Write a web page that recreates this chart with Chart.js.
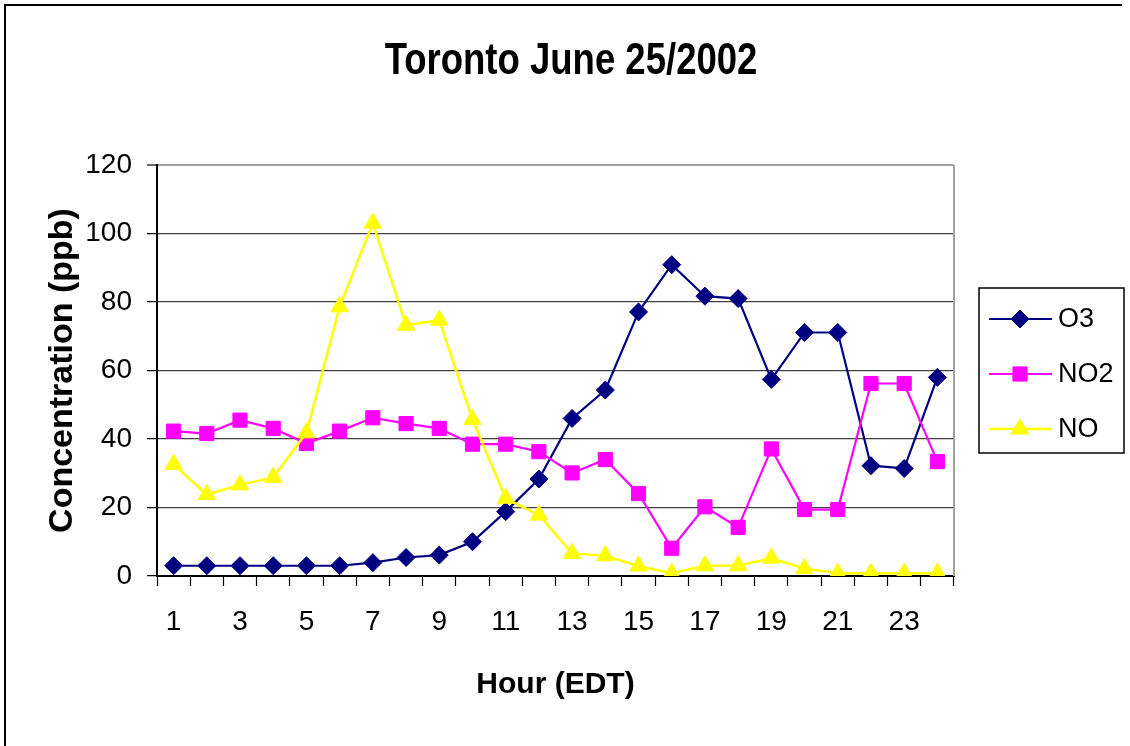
<!DOCTYPE html>
<html>
<head>
<meta charset="utf-8">
<title>Toronto June 25/2002</title>
<script src="https://cdn.jsdelivr.net/npm/chart.js@4.4.1/dist/chart.umd.min.js"></script>
<style>
  html, body { margin: 0; padding: 0; background: #ffffff; }
  #wrap { width: 1130px; height: 746px; }
</style>
</head>
<body>
<div id="wrap"><canvas id="chart" width="1130" height="746"></canvas></div>
<script>
// Hourly concentrations (ppb), hours 1..24 EDT
const hours = ['1','2','3','4','5','6','7','8','9','10','11','12',
               '13','14','15','16','17','18','19','20','21','22','23','24'];
const o3  = [3.0, 3.0, 3.0, 3.0, 3.0, 3.0, 3.9, 5.4, 6.1, 10.0, 18.8, 28.3,
             46.0, 54.3, 77.1, 90.9, 81.7, 81.0, 57.4, 71.1, 71.1, 32.2, 31.4, 58.0];
const no2 = [42.3, 41.6, 45.5, 43.1, 38.7, 42.3, 46.2, 44.5, 43.1, 38.5, 38.5, 36.3,
             30.1, 34.0, 24.1, 8.1, 20.2, 14.2, 37.1, 19.4, 19.4, 56.2, 56.2, 33.4];
const no  = [32.6, 23.8, 26.6, 28.8, 41.8, 78.6, 103.0, 73.2, 74.7, 45.7, 22.7, 17.8,
             6.6, 5.9, 2.9, 0.8, 3.0, 3.0, 5.2, 2.2, 0.8, 0.8, 0.8, 0.8];
const yTicks = [0, 20, 40, 60, 80, 100, 120];
const chartTitle = 'Toronto June 25/2002';

const FONT = '"Liberation Sans", Arial, sans-serif';

// White page with the frame lines on the top and left edges
const framePlugin = {
  id: 'frame',
  beforeDraw(chart) {
    const ctx = chart.ctx;
    ctx.save();
    ctx.fillStyle = '#ffffff';
    ctx.fillRect(0, 0, chart.width, chart.height);
    ctx.strokeStyle = '#000000';
    ctx.lineWidth = 2;
    ctx.beginPath();
    ctx.moveTo(5, chart.height);
    ctx.lineTo(5, 5);
    ctx.lineTo(1122, 5);
    ctx.stroke();
    ctx.restore();
  },
  beforeDatasetsDraw(chart) {
    // grey plot-area edge on the right side
    const a = chart.chartArea;
    const ctx = chart.ctx;
    ctx.save();
    ctx.strokeStyle = '#a0a0a0';
    ctx.lineWidth = 2;
    ctx.beginPath();
    ctx.moveTo(a.right, a.top);
    ctx.lineTo(a.right, a.bottom);
    ctx.stroke();
    ctx.restore();
  }
};

// Condensed bold title centred across the whole page
const titlePlugin = {
  id: 'pageTitle',
  afterDraw(chart) {
    const ctx = chart.ctx;
    ctx.save();
    ctx.translate(571, 62);
    ctx.scale(0.83, 1);
    ctx.fillStyle = '#000000';
    ctx.font = 'bold 44px ' + FONT;
    ctx.textAlign = 'center';
    ctx.textBaseline = 'middle';
    ctx.fillText(chartTitle, 0, 0);
    ctx.restore();
  }
};

// Boxed legend with a line-and-marker sample for each series
const seriesLegend = {
  id: 'seriesLegend',
  afterDraw(chart) {
    const ctx = chart.ctx;
    const box = { x: 979, y: 288, w: 145, h: 165 };
    ctx.save();
    ctx.strokeStyle = '#000000';
    ctx.lineWidth = 1.5;
    ctx.strokeRect(box.x, box.y, box.w, box.h);
    const rowY = [319, 374, 429];
    chart.data.datasets.forEach((ds, i) => {
      const y = rowY[i];
      ctx.strokeStyle = ds.borderColor;
      ctx.lineWidth = ds.borderWidth;
      ctx.beginPath();
      ctx.moveTo(989, y);
      ctx.lineTo(1052, y);
      ctx.stroke();
      ctx.fillStyle = ds.pointBackgroundColor;
      ctx.strokeStyle = ds.pointBorderColor;
      ctx.lineWidth = 1;
      Chart.helpers.drawPoint(ctx, {
        pointStyle: ds.pointStyle,
        radius: ds.pointRadius,
        borderWidth: 1
      }, 1020, y);
      ctx.fillStyle = '#000000';
      ctx.font = '27px ' + FONT;
      ctx.textBaseline = 'middle';
      ctx.textAlign = 'left';
      ctx.fillText(ds.label, 1058, y + 1);
    });
    ctx.restore();
  }
};

const series = (label, data, color, style, radius, width, order) => ({
  label, data, order,
  borderColor: color,
  backgroundColor: color,
  borderWidth: width,
  pointStyle: style,
  pointRadius: radius,
  pointHoverRadius: radius,
  pointBackgroundColor: color,
  pointBorderColor: color,
  pointBorderWidth: 1,
  tension: 0,
  fill: false
});

const datasets = [
  series('O3', o3, '#000080', 'rectRot', 9, 2.2, 3),
  series('NO2', no2, '#ff00ff', 'rect', 10, 2.2, 2),
  series('NO', no, '#ffff00', 'triangle', 10, 2.5, 1)
];

new Chart(document.getElementById('chart'), {
  type: 'line',
  data: { labels: hours, datasets },
  plugins: [framePlugin, titlePlugin, seriesLegend],
  options: {
    responsive: false,
    animation: false,
    layout: { padding: { left: 0, top: 165, right: 176, bottom: 0 } },
    plugins: {
      legend: { display: false },
      tooltip: { enabled: false },
      title: { display: false }
    },
    scales: {
      x: {
        type: 'category',
        offset: true,
        grid: {
          offset: true,
          drawOnChartArea: false,
          tickLength: 10,
          tickColor: '#000000',
          tickWidth: 1.2
        },
        border: { color: '#000000', width: 2 },
        ticks: {
          autoSkip: false,
          maxRotation: 0,
          color: '#000000',
          padding: 19,
          font: { family: FONT, size: 28 },
          callback: (v, i) => (i % 2 === 0 ? hours[i] : '')
        },
        title: {
          display: true,
          text: 'Hour (EDT)',
          color: '#000000',
          font: { family: FONT, size: 30, weight: 'bold', lineHeight: 1.2 },
          padding: { top: 0, bottom: 43 }
        },
        afterFit(scale) { scale.height = 170; }
      },
      y: {
        min: 0,
        max: 120,
        afterBuildTicks(scale) { scale.ticks = yTicks.map(v => ({ value: v })); },
        grid: {
          color: c => (c.tick && c.tick.value === 120 ? '#a0a0a0' : '#404040'),
          lineWidth: c => (c.tick && c.tick.value === 120 ? 2 : 1.3),
          tickColor: '#000000',
          tickLength: 10,
          tickWidth: 1.2
        },
        border: { color: '#000000', width: 2 },
        ticks: {
          color: '#000000',
          padding: 15,
          font: { family: FONT, size: 28 }
        },
        title: {
          display: true,
          text: 'Concentration (ppb)',
          color: '#000000',
          font: { family: FONT, size: 34, weight: 'bold', lineHeight: 1.2 },
          padding: { top: 42, bottom: 0 }
        },
        afterFit(scale) { scale.width = 157; }
      }
    }
  }
});
</script>
</body>
</html>
